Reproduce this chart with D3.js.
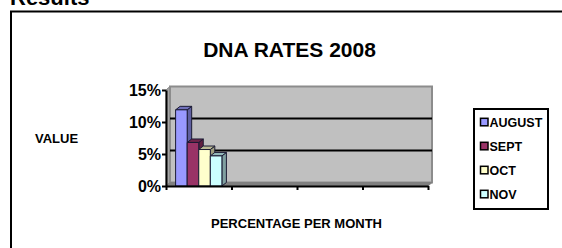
<!DOCTYPE html>
<html>
<head>
<meta charset="utf-8">
<script src="https://cdn.jsdelivr.net/npm/d3@7"></script>
<style>
  body { margin: 0; background: #fff; }
  text { font-family: "Liberation Sans", Arial, sans-serif; font-weight: bold; fill: #000; }
</style>
</head>
<body>
<svg id="svg"></svg>
<script>
// chart values
const categories = [1, 2, 3, 4];          // four slots on the x axis, only the first has data
const seriesNames = ["AUGUST", "SEPT", "OCT", "NOV"];
const seriesColors = ["#9999ff", "#993366", "#ffffcc", "#ccffff"];
const augustValues = [11.9, null, null, null];
const septValues = [6.8, null, null, null];
const octValues = [5.7, null, null, null];
const novValues = [4.7, null, null, null];
const yTicks = [0, 5, 10, 15];

const width = 562;
const height = 248;
const svg = d3.select("#svg").attr("width", width).attr("height", height);

// depth of the 3d box
const dx = 4, dy = -3.5;

const xScale = d3.scaleBand()
    .domain(categories)
    .range([166, 428]);

const xEdge = d3.scaleLinear()
    .domain([0, categories.length])
    .range(xScale.range());

const seriesScale = d3.scaleBand()
    .domain(seriesNames)
    .range([0, xScale.bandwidth()])
    .paddingOuter(0.83);

const yScale = d3.scaleLinear()
    .domain([0, 15])
    .range([186, 90]);

// "Results" heading peeking in at the top
svg.append("text")
    .attr("x", 10)
    .attr("y", 5)
    .style("font-size", "22px")
    .text("Results");

// outer frame
svg.append("rect")
    .attr("x", 11)
    .attr("y", 11.5)
    .attr("width", 560)
    .attr("height", 260)
    .attr("fill", "none")
    .attr("stroke", "#000")
    .attr("stroke-width", 2);

svg.append("text")
    .attr("x", 289.5)
    .attr("y", 56.5)
    .attr("text-anchor", "middle")
    .style("font-size", "21px")
    .text("DNA RATES 2008");

// walls and floor
const xl = xScale.range()[0], xr = xScale.range()[1];
const yb = yScale(0), yt = yScale(15);
const pts = a => a.map(p => p.join(",")).join(" ");

svg.append("polygon")  // side wall
    .attr("points", pts([[xl, yt], [xl + dx, yt + dy], [xl + dx, yb + dy], [xl, yb]]))
    .attr("fill", "#a6a6a6")
    .attr("stroke", "#808080");

svg.append("polygon")  // back wall
    .attr("points", pts([[xl + dx, yt + dy], [xr + dx, yt + dy], [xr + dx, yb + dy], [xl + dx, yb + dy]]))
    .attr("fill", "#c0c0c0")
    .attr("stroke", "#8c8c8c")
    .attr("stroke-width", 2);

svg.append("polygon")  // floor
    .attr("points", pts([[xl, yb], [xl + dx, yb + dy], [xr + dx, yb + dy], [xr, yb]]))
    .attr("fill", "#808080")
    .attr("stroke", "#808080");

// gridlines on the back wall
svg.append("g")
    .selectAll("line")
    .data(yTicks.filter(v => v > 0 && v < 15))
    .enter().append("line")
    .attr("x1", xl + dx)
    .attr("x2", xr + dx)
    .attr("y1", d => yScale(d) + dy)
    .attr("y2", d => yScale(d) + dy)
    .attr("stroke", "#000")
    .attr("stroke-width", 2);

// bars
const series = [augustValues, septValues, octValues, novValues].map((vals, i) => ({
    name: seriesNames[i], color: seriesColors[i], values: vals
}));
const bw = seriesScale.bandwidth();
const bdx = 4.5, bdy = -3.5;

series.forEach(s => {
    s.values.forEach((v, ci) => {
        if (v == null) return;
        const x = xScale(categories[ci]) + seriesScale(s.name);
        const y = yScale(v);
        const g = svg.append("g")
            .attr("stroke", "#1a1a33")
            .attr("stroke-width", 1)
            .attr("stroke-linejoin", "round");
        g.append("polygon")  // side
            .attr("points", pts([[x + bw, y], [x + bw + bdx, y + bdy], [x + bw + bdx, yb + bdy], [x + bw, yb]]))
            .attr("fill", d3.color(s.color).darker(1.3));
        g.append("polygon")  // top
            .attr("points", pts([[x, y], [x + bdx, y + bdy], [x + bw + bdx, y + bdy], [x + bw, y]]))
            .attr("fill", d3.color(s.color).darker(0.9));
        g.append("rect")  // front
            .attr("x", x)
            .attr("y", y)
            .attr("width", bw)
            .attr("height", yb - y)
            .attr("fill", s.color);
    });
});

// y axis
const yAxis = svg.append("g")
    .attr("transform", `translate(${xl},0)`)
    .call(d3.axisLeft(yScale).tickValues(yTicks).tickSize(4).tickSizeOuter(0).tickFormat(d => d + "%"));
yAxis.select(".domain").attr("stroke", "#000").attr("stroke-width", 2);
yAxis.selectAll(".tick line").attr("stroke", "#000").attr("stroke-width", 2);
yAxis.selectAll(".tick text")
    .attr("x", -5)
    .style("font-family", "'Liberation Sans', Arial, sans-serif")
    .style("font-weight", "bold")
    .style("font-size", "16px");

// x axis, ticks on the category edges
const xAxis = svg.append("g")
    .attr("transform", `translate(0,${yb})`)
    .call(d3.axisBottom(xEdge).ticks(categories.length).tickSize(4).tickSizeOuter(0).tickFormat(() => ""));
xAxis.select(".domain").attr("stroke", "#000").attr("stroke-width", 2);
xAxis.selectAll(".tick line").attr("stroke", "#000").attr("stroke-width", 2);

// axis titles
svg.append("text")
    .attr("x", 35)
    .attr("y", 143.3)
    .style("font-size", "13px")
    .text("VALUE");

svg.append("text")
    .attr("x", 296.5)
    .attr("y", 228)
    .attr("text-anchor", "middle")
    .style("font-size", "13px")
    .text("PERCENTAGE PER MONTH");

// legend
const legend = svg.append("g");
legend.append("rect")
    .attr("x", 474)
    .attr("y", 109)
    .attr("width", 74)
    .attr("height", 100)
    .attr("fill", "#fff")
    .attr("stroke", "#000")
    .attr("stroke-width", 2);

const legendItems = legend.selectAll(".legend-item")
    .data(series)
    .enter().append("g")
    .attr("class", "legend-item")
    .attr("transform", (d, i) => `translate(480, ${122.3 + i * 24})`);

legendItems.append("rect")
    .attr("x", 0.5)
    .attr("y", -4)
    .attr("width", 7.5)
    .attr("height", 7.5)
    .attr("fill", d => d.color)
    .attr("stroke", "#000")
    .attr("stroke-width", 1.5);

legendItems.append("text")
    .attr("x", 9.5)
    .attr("y", 0)
    .attr("dy", "0.36em")
    .style("font-size", "12.5px")
    .text(d => d.name);
</script>
</body>
</html>
